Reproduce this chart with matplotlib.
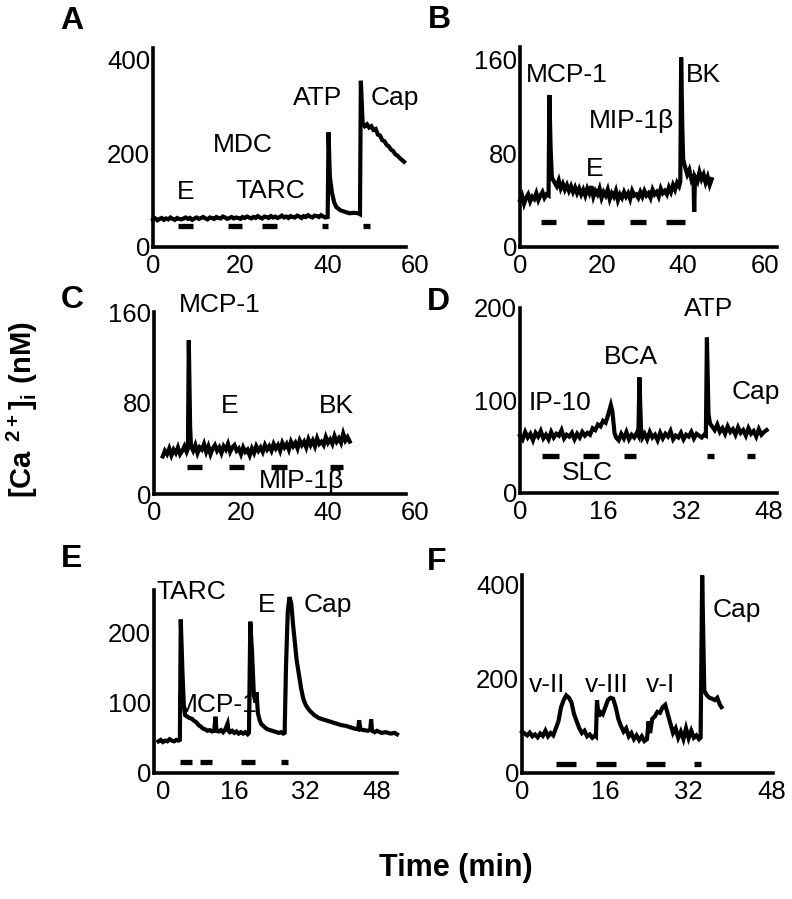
import numpy as np
import matplotlib.pyplot as plt

plt.rcParams['font.family'] = ['Liberation Sans', 'DejaVu Sans']
plt.rcParams['mathtext.fontset'] = 'custom'
plt.rcParams['mathtext.rm'] = 'Liberation Sans'
plt.rcParams['mathtext.bf'] = 'Liberation Sans:bold'

# ---- Panel A ----
a_time = [0, 0.5, 1, 1.5, 2, 2.5, 3, 3.5, 4, 4.5, 5, 5.5, 6, 6.5, 7, 7.5, 8, 8.5, 9, 9.5,
          10, 10.5, 11, 11.5, 12, 12.5, 13, 13.5, 14, 14.5, 15, 15.5, 16, 16.5, 17, 17.5, 18, 18.5, 19, 19.5,
          20, 20.5, 21, 21.5, 22, 22.5, 23, 23.5, 24, 24.5, 25, 25.5, 26, 26.5, 27, 27.5, 28, 28.5, 29, 29.5,
          30, 30.5, 31, 31.5, 32, 32.5, 33, 33.5, 34, 34.5, 35, 35.5, 36, 36.5, 37, 37.5, 38, 38.5, 39, 39.5,
          40.0, 40.2, 40.5, 41, 41.5, 42, 43, 44, 45, 46, 47, 47.4, 47.6, 48, 48.5, 49, 49.5, 50, 50.5, 51,
          51.5, 52, 52.5, 53, 53.5, 54, 54.5, 55, 55.5, 56, 56.5, 57, 57.5]
a_ca = [58, 61, 57, 60, 62, 58, 61, 59, 63, 60, 58, 62, 60, 59, 61, 63, 60, 62, 58, 61,
        63, 60, 62, 64, 61, 59, 63, 62, 60, 64, 62, 61, 65, 63, 60, 62, 64, 61, 63, 62,
        60, 64, 62, 65, 63, 61, 64, 62, 66, 63, 61, 65, 64, 62, 66, 63, 65, 62, 64, 67,
        63, 65, 62, 66, 64, 63, 67, 65, 62, 66, 64, 68, 65, 63, 67, 66, 64, 68, 65, 63,
        64, 245, 150, 115, 95, 85, 78, 75, 72, 73, 72, 70, 355, 265, 258, 262, 255, 258, 250, 252,
        240, 238, 228, 226, 218, 215, 208, 205, 198, 195, 190, 186, 182]
a_bars = [(5.7, 9.2), (17.1, 20.4), (25.0, 28.4), (38.7, 40.1), (48.0, 49.7)]
a_bar_level = 45
a_labels = [('E', 7.6, 117), ('MDC', 20.6, 217), ('TARC', 26.8, 119), ('ATP', 37.8, 319), ('Cap', 55.4, 319)]

# ---- Panel B ----
b_time = [0, 0.5, 1, 1.5, 2, 2.5, 3, 3.5, 4, 4.5, 5, 5.5, 6, 6.5, 7.0, 7.2, 7.5, 7.8, 8.0,
          8.5, 9, 9.5, 10, 10.5, 11, 11.5, 12, 12.5, 13, 13.5, 14, 14.5, 15,
          15.5, 16, 16.5, 17, 17.5, 18, 18.5, 19, 19.5, 20, 20.5, 21, 21.5, 22,
          22.5, 23, 23.5, 24, 24.5, 25, 25.5, 26, 26.5, 27, 27.5, 28, 28.5, 29,
          29.5, 30, 30.5, 31, 31.5, 32, 32.5, 33, 33.5, 34, 34.5, 35, 35.5, 36,
          36.5, 37, 37.5, 38, 38.5, 39, 39.3, 39.5, 39.8, 40.0, 40.5, 41, 41.5, 42, 42.5, 42.7, 42.9,
          43.5, 44, 44.5, 45, 45.5, 46, 46.5, 47]
b_ca = [40, 44, 37, 42, 45, 39, 43, 41, 46, 40, 44, 47, 42, 45, 44, 130, 85, 60, 58,
        55, 52, 57, 50, 54, 49, 53, 48, 52, 47, 51, 46, 50, 45,
        49, 44, 50, 46, 52, 43, 48, 45, 50, 42, 47, 44, 49, 41,
        46, 43, 48, 40, 45, 42, 47, 43, 46, 41, 48, 44, 45, 42,
        47, 43, 48, 44, 46, 42, 49, 45, 47, 43, 50, 46, 48, 45,
        51, 47, 53, 49, 55, 52, 56, 162, 100, 75, 68, 62, 66, 58, 62, 30, 60,
        56, 64, 58, 62, 55, 60, 53, 58]
b_bars = [(5.2, 8.9), (16.4, 20.6), (27.0, 31.0), (35.7, 40.4)]
b_bar_level = 21
b_labels = [('MCP-1', 11.4, 147), ('MIP-1\u03b2', 27.3, 108), ('E', 18.4, 67), ('BK', 45.0, 147)]

# ---- Panel C ----
c_time = [2, 2.5, 3, 3.5, 4, 4.5, 5, 5.5, 6, 6.5, 7, 7.5, 7.8, 8.0, 8.3, 8.5,
          9, 9.5, 10, 10.5, 11, 11.5, 12, 12.5, 13, 13.5, 14, 14.5, 15, 15.5, 16, 16.5, 17, 17.5, 18,
          18.5, 19, 19.5, 20, 20.5, 21, 21.5, 22, 22.5, 23, 23.5, 24, 24.5, 25, 25.5, 26, 26.5, 27,
          27.5, 28, 28.5, 29, 29.5, 30, 30.5, 31, 31.5, 32, 32.5, 33, 33.5, 34, 34.5, 35, 35.5, 36,
          36.5, 37, 37.5, 38, 38.5, 39, 39.5, 40, 40.5, 41, 41.5, 42, 42.5, 43, 43.5, 44, 44.5, 45]
c_ca = [33, 38, 35, 40, 34, 39, 36, 41, 35, 38, 42, 37, 40, 135, 60, 42,
        38, 43, 36, 41, 39, 44, 37, 42, 35, 40, 43, 38, 41, 36, 42, 39, 44, 37, 41,
        43, 38, 40, 35, 41, 37, 39, 34, 40, 36, 42, 38, 41, 37, 43, 39, 42, 38,
        44, 40, 43, 38, 45, 41, 44, 39, 46, 42, 45, 40, 47, 43, 46, 41, 48, 43,
        47, 42, 49, 44, 46, 43, 50, 45, 48, 44, 51, 46, 49, 45, 53, 47, 50, 46]
c_bars = [(7.5, 11.0), (17.3, 20.7), (26.8, 30.5), (40.5, 43.5)]
c_bar_level = 24
c_labels = [('MCP-1', 15.2, 166), ('E', 17.5, 77), ('BK', 42.0, 77), ('MIP-1\u03b2', 34.0, 11)]

# ---- Panel D ----
d_time = [0, 0.5, 1, 1.5, 2, 2.5, 3, 3.5, 4, 4.5, 5, 5.5, 6, 6.5, 7, 7.5, 8, 8.5, 9, 9.5,
          10, 10.5, 11, 11.5, 12, 12.5, 13, 13.5, 14, 14.5, 15, 15.5, 16, 16.5, 17, 17.5,
          17.8, 18.2, 18.5, 19, 19.5, 20, 20.5, 21, 21.5, 22, 22.5, 22.8, 23.0, 23.3, 23.6,
          24, 24.5, 25, 25.5, 26, 26.5, 27, 27.5, 28, 28.5, 29, 29.5, 30, 30.5, 31, 31.5,
          32, 32.5, 33, 33.5, 34, 34.5, 35, 35.5, 35.8, 36.0, 36.3, 36.6,
          37, 37.5, 38, 38.5, 39, 39.5, 40, 40.5, 41, 41.5, 42, 42.5, 43, 43.5, 44, 44.5,
          45, 45.5, 46, 46.5, 47, 47.5]
d_ca = [62, 58, 66, 60, 64, 57, 65, 61, 67, 59, 63, 58, 66, 60, 64, 62, 68, 59, 63, 61,
        65, 58, 64, 60, 66, 62, 65, 63, 70, 68, 74, 72, 78, 76, 85, 95,
        88, 65, 60, 57, 64, 59, 66, 58, 63, 60, 65, 62, 125, 70, 60,
        64, 58, 66, 60, 63, 57, 65, 59, 64, 61, 67, 58, 62, 60, 65, 58,
        63, 61, 66, 59, 64, 62, 60, 63, 62, 168, 85, 75,
        72, 68, 74, 66, 70, 64, 72, 66, 69, 63, 71, 65, 68, 62, 70, 64,
        67, 61, 69, 63, 66, 68]
d_bars = [(4.3, 7.6), (12.2, 15.3), (20.0, 22.3), (36.0, 37.3), (43.7, 45.2)]
d_bar_level = 40
d_labels = [('IP-10', 7.8, 97), ('SLC', 13.0, 22), ('BCA', 21.4, 147), ('ATP', 36.3, 199), ('Cap', 45.4, 109)]

# ---- Panel E ----
e_time = [-1, -0.5, 0, 0.5, 1, 1.5, 2, 2.5, 3, 3.5, 3.8, 4.0, 4.4, 4.7, 5.0, 5.5, 6, 6.5, 7, 7.5,
          8, 8.5, 9, 9.5, 10, 10.5, 11, 11.5, 11.8, 12.0, 12.5, 13, 13.5, 14, 14.5, 14.7, 15, 15.5,
          16, 16.5, 17, 17.5, 18, 18.5, 19, 19.3, 19.6, 20.0, 20.4, 20.8, 21.0, 21.3, 21.7, 22,
          22.5, 23, 23.5, 24, 24.5, 25, 25.5, 26, 26.5, 27, 27.3, 27.6, 28.0, 28.4, 28.8, 29.2,
          29.6, 30.0, 30.5, 31, 31.5, 32, 32.5, 33, 34, 35, 36, 37, 38, 39, 40, 41, 42, 43,
          43.8, 44.0, 44.3, 45, 46, 46.5, 46.7, 46.9, 47.5, 48, 49, 50, 51, 52, 52.5]
e_ca = [45, 47, 44, 46, 45, 48, 46, 45, 47, 46, 47, 218, 140, 95, 82, 80, 78, 77, 74, 72,
        68, 66, 63, 62, 60, 61, 59, 60, 80, 60, 59, 61, 58, 62, 70, 60, 58, 60,
        57, 59, 56, 58, 56, 58, 55, 57, 215, 170, 110, 100, 115, 85, 75, 70,
        67, 64, 62, 61, 60, 59, 58, 57, 58, 56, 57, 150, 230, 250, 240, 210,
        185, 160, 140, 120, 105, 97, 92, 88, 82, 78, 76, 74, 72, 70, 68, 67, 65, 63,
        62, 75, 62, 61, 60, 62, 76, 60, 58, 60, 57, 58, 56, 57, 55]
e_bars = [(3.8, 6.5), (8.3, 11.0), (17.5, 20.6), (26.5, 28.0)]
e_bar_level = 16
e_labels = [('TARC', 6.4, 257), ('MCP-1', 12.0, 97), ('E', 23.3, 238), ('Cap', 37.0, 238)]

# ---- Panel F ----
f_time = [0, 0.5, 1, 1.5, 2, 2.5, 3, 3.5, 4, 4.5, 5, 5.5, 6, 6.5, 7, 7.5, 8, 8.5, 9, 9.5,
          10, 10.5, 11, 11.5, 12, 12.5, 13, 13.5, 14, 14.2, 14.4, 14.7, 15, 15.5, 16, 16.5, 17,
          17.5, 18, 18.5, 19, 19.5, 20, 20.5, 21, 21.5, 22, 22.5, 23, 23.5, 24, 24.3, 24.6, 25,
          25.5, 26, 26.5, 27, 27.5, 28, 28.5, 29, 29.5, 30, 30.5, 31, 31.5, 32, 32.5, 33, 33.5,
          34, 34.3, 34.6, 35.0, 35.5, 36, 36.5, 37, 37.5, 38, 38.3]
f_ca = [88, 84, 80, 86, 78, 82, 76, 84, 79, 90, 78, 85, 80, 95, 110, 140, 155, 165, 160, 150,
        125, 110, 95, 85, 90, 78, 82, 75, 80, 78, 155, 120, 130, 125, 140, 155, 160,
        158, 140, 115, 100, 88, 95, 78, 85, 72, 80, 70, 78, 68, 72, 110, 85, 115,
        120, 130, 128, 140, 145, 125, 105, 85, 95, 75, 88, 72, 95, 74, 90, 75, 80,
        72, 75, 420, 175, 165, 160, 158, 155, 160, 145, 140]
f_bars = [(6.5, 10.4), (14.3, 18.1), (23.9, 27.5), (33.0, 34.3)]
f_bar_level = 19
f_labels = [('v-II', 4.8, 187), ('v-III', 16.2, 187), ('v-I', 26.6, 187), ('Cap', 41.2, 347)]

W, H = 792, 899
fig = plt.figure(figsize=(W / 100, H / 100), dpi=100)


def add_panel(left, right, top, bottom):
    # box given in pixels, measured from the top left corner
    return fig.add_axes([left / W, 1 - bottom / H, (right - left) / W, (bottom - top) / H])


def draw_panel(ax, t, ca, bars, bar_level, labels, xlim, ylim, xticks, yticks, xend=None):
    ax.plot(t, ca, color='black', lw=3.0, solid_joinstyle='miter', clip_on=False)
    for x0, x1 in bars:
        ax.hlines(bar_level, x0, x1, color='black', lw=3.8, capstyle='butt')
    for text, x, y in labels:
        ax.text(x, y, text, ha='center', va='center', fontsize=19)
    ax.set_xlim(*xlim)
    ax.set_ylim(*ylim)
    ax.set_xticks(xticks)
    ax.set_yticks(yticks)
    for side in ['top', 'right']:
        ax.spines[side].set_visible(False)
    for side in ['left', 'bottom']:
        ax.spines[side].set_linewidth(2.6)
    if xend is not None:
        ax.spines['bottom'].set_bounds(xlim[0], xend)
    ax.tick_params(length=0, labelsize=18.5)
    ax.tick_params(axis='x', pad=5)
    ax.tick_params(axis='y', pad=2)
    ax.patch.set_alpha(0)


ax = add_panel(153, 415, 48, 247)
draw_panel(ax, a_time, a_ca, a_bars, a_bar_level, a_labels, (0, 60), (0, 425),
           [0, 20, 40, 60], [0, 200, 400], xend=58)

ax = add_panel(520, 777, 47, 247)
draw_panel(ax, b_time, b_ca, b_bars, b_bar_level, b_labels, (0, 63), (0, 171),
           [0, 20, 40, 60], [0, 80, 160])

ax = add_panel(154, 415, 312, 494)
draw_panel(ax, c_time, c_ca, c_bars, c_bar_level, c_labels, (0, 60), (0, 160),
           [0, 20, 40, 60], [0, 80, 160], xend=58)

ax = add_panel(520, 777, 308, 493)
draw_panel(ax, d_time, d_ca, d_bars, d_bar_level, d_labels, (0, 49.5), (0, 200),
           [0, 16, 32, 48], [0, 100, 200])

ax = add_panel(154, 397, 590, 773)
draw_panel(ax, e_time, e_ca, e_bars, e_bar_level, e_labels, (-2, 52.5), (0, 260),
           [0, 16, 32, 48], [0, 100, 200])

ax = add_panel(522, 773, 575, 773)
draw_panel(ax, f_time, f_ca, f_bars, f_bar_level, f_labels, (0, 48.2), (0, 421),
           [0, 16, 32, 48], [0, 200, 400])

# panel letters
for letter, x, y in [('A', 72, 21), ('B', 439, 20), ('C', 72, 300),
                     ('D', 438, 302), ('E', 72, 559), ('F', 437, 562)]:
    fig.text(x / W, 1 - y / H, letter, ha='center', va='center', fontsize=23, fontweight='bold')

fig.text(22 / W, 1 - 410 / H, r'$\mathbf{[Ca\ ^{2+}]_i\ (nM)}$', rotation=90,
         ha='center', va='center', fontsize=21)
fig.text(456 / W, 1 - 868 / H, 'Time (min)', ha='center', va='center',
         fontsize=22, fontweight='bold')

fig.savefig('out.png', dpi=100)
